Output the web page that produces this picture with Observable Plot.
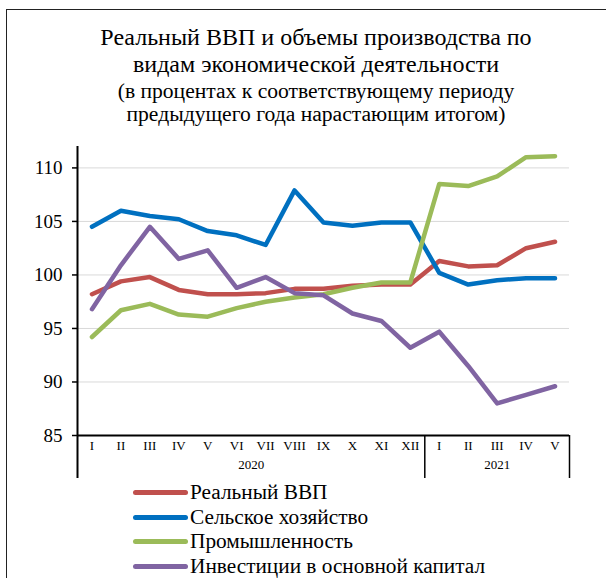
<!DOCTYPE html>
<html>
<head>
<meta charset="utf-8">
<script src="https://cdn.jsdelivr.net/npm/d3@7"></script>
<script src="https://cdn.jsdelivr.net/npm/@observablehq/plot@0.6"></script>
<style>
  body { margin: 0; background: #fff; font-family: "Liberation Serif", "Times New Roman", serif; color: #000; }
  #wrap { position: relative; width: 606px; height: 578px; overflow: hidden; background: #fff; }
  #frame { position: absolute; left: 6px; top: 9px; width: 800px; height: 800px; border-left: 1.5px solid #222; border-top: 1.5px solid #222; }
  #title { position: absolute; left: 0; width: 632px; top: 24px; text-align: center; }
  #title .t { font-size: 24px; line-height: 27px; }
  #title .sub { margin-top: 2px; }
  #title .s { font-size: 21.6px; line-height: 23px; }
  #chart { position: absolute; left: 0; top: 140px; }
  .leg { position: absolute; left: 0; width: 606px; height: 24px; }
  .leg .sw { position: absolute; left: 133px; width: 55px; height: 5px; top: 9.5px; border-radius: 3px; }
  .leg .lb { position: absolute; left: 190px; top: 0; font-size: 21.3px; line-height: 24px; white-space: nowrap; }
</style>
</head>
<body>
<div id="wrap">
  <div id="frame"></div>
  <div id="title">
    <div class="t">Реальный ВВП и объемы производства по</div>
    <div class="t">видам экономической деятельности</div>
    <div class="sub">
      <div class="s">(в процентах к соответствующему периоду</div>
      <div class="s">предыдущего года нарастающим итогом)</div>
    </div>
  </div>
  <div id="chart"></div>
  <div id="legend"></div>
</div>
<script>
// ---- data ----
const months2020 = ["I","II","III","IV","V","VI","VII","VIII","IX","X","XI","XII"];
const months2021 = ["I","II","III","IV","V"];
const years = ["2020", "2021"];
const seriesNames = ["Реальный ВВП", "Сельское хозяйство", "Промышленность", "Инвестиции в основной капитал"];
const seriesColors = ["#C0504D", "#0070C0", "#9BBB59", "#8064A2"];
const gdp      = [98.2, 99.4, 99.8, 98.6, 98.2, 98.2, 98.3, 98.7, 98.7, 99.0, 99.1, 99.1, 101.3, 100.8, 100.9, 102.5, 103.1];
const agri     = [104.5, 106.0, 105.5, 105.2, 104.1, 103.7, 102.8, 107.9, 104.9, 104.6, 104.9, 104.9, 100.2, 99.1, 99.5, 99.7, 99.7];
const industry = [94.2, 96.7, 97.3, 96.3, 96.1, 96.9, 97.5, 97.9, 98.2, 98.8, 99.3, 99.3, 108.5, 108.3, 109.2, 111.0, 111.1];
const invest   = [96.8, 100.9, 104.5, 101.5, 102.3, 98.8, 99.8, 98.3, 98.1, 96.4, 95.7, 93.2, 94.7, 91.5, 88.0, 88.8, 89.6];
const yTicks = [85, 90, 95, 100, 105, 110];
const gridTicks = [90, 95, 100, 105, 110];

// ---- build tables ----
const months = [...months2020, ...months2021];
const n = months.length;
const idx = d3.range(n);
const seriesValues = [gdp, agri, industry, invest];
const rows = [];
seriesNames.forEach((s, k) => seriesValues[k].forEach((v, i) => rows.push({i, series: s, value: v})));
const groups = [
  {year: years[0], start: 0, end: months2020.length},
  {year: years[1], start: months2020.length, end: n}
];
const yearRows = groups.map(g => ({year: g.year, mid: (g.start + g.end - 1) / 2}));
const boundaries = groups.map(g => ({x: g.end - 0.5}));

const chart = Plot.plot({
  width: 606,
  height: 345,
  marginTop: 6,
  marginBottom: 50,
  marginLeft: 77,
  marginRight: 37,
  style: {fontFamily: "'Liberation Serif', 'Times New Roman', serif", color: "#000", background: "transparent"},
  x: {type: "linear", domain: [-0.5, n - 0.5], axis: null},
  y: {domain: [85, 112], axis: null},
  color: {domain: seriesNames, range: seriesColors},
  marks: [
    Plot.gridY(gridTicks, {stroke: "#d9d9d9", strokeOpacity: 1, strokeWidth: 1}),
    Plot.axisY(yTicks, {anchor: "left", label: null, tickSize: 5, tickPadding: 10, fontSize: 19, strokeWidth: 1.5}),
    Plot.axisX(idx, {anchor: "bottom", label: null, tickSize: 0, tickPadding: 5, fontSize: 13, tickFormat: i => months[i]}),
    Plot.ruleY([85], {stroke: "#000", strokeWidth: 2}),
    Plot.ruleX([-0.5], {stroke: "#000", strokeWidth: 2, insetBottom: -43}),
    Plot.ruleX(boundaries, {x: "x", y1: () => 85, y2: () => 85, insetBottom: -43, stroke: "#000", strokeWidth: 1.5}),
    Plot.text(yearRows, {x: "mid", y: () => 85, text: "year", dy: 29, fontSize: 13, lineAnchor: "middle"}),
    Plot.line(rows, {x: "i", y: "value", z: "series", stroke: "series", strokeWidth: 4.5, strokeLinecap: "round", strokeLinejoin: "round"})
  ]
});
document.getElementById("chart").appendChild(chart);

// ---- legend ----
const legendTops = [480, 505, 529, 554];
const legend = document.getElementById("legend");
seriesNames.forEach((s, k) => {
  const row = document.createElement("div");
  row.className = "leg";
  row.style.top = legendTops[k] + "px";
  row.innerHTML = `<span class="sw" style="background:${seriesColors[k]}"></span><span class="lb">${s}</span>`;
  legend.appendChild(row);
});
</script>
</body>
</html>
